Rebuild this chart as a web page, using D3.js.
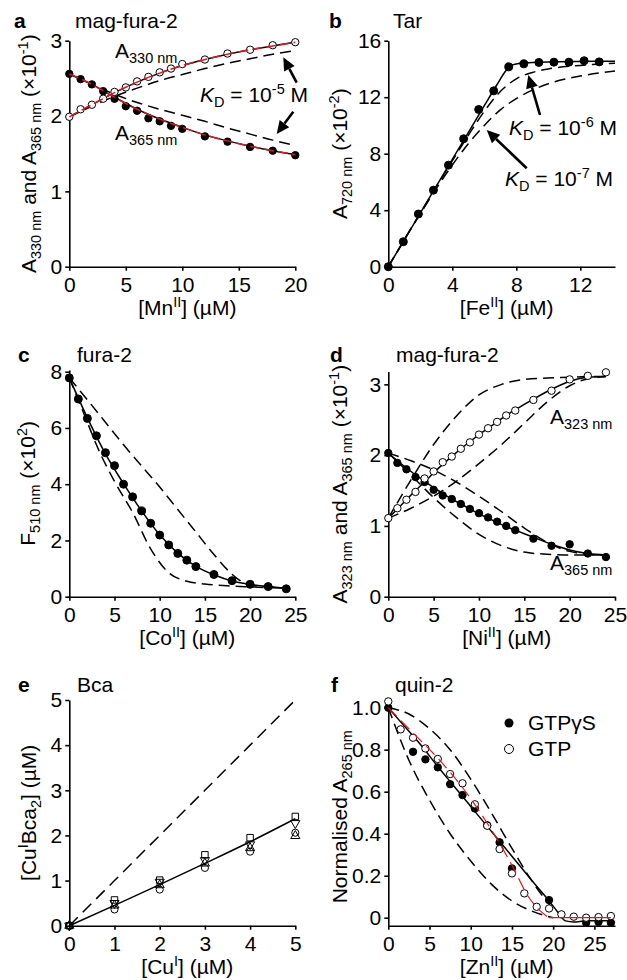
<!DOCTYPE html>
<html><head><meta charset="utf-8">
<script src="https://cdn.jsdelivr.net/npm/d3@7"></script>
<style>
body{margin:0;background:#fff}
text{font-family:"Liberation Sans",Arial,sans-serif;fill:#000}
</style></head>
<body><svg id="fig" width="627" height="980"></svg>
<script>
// ---------------- Panel a : mag-fura-2 / Mn ----------------
const aConc   = [0,1,2,3,4,5,6,7,8,9,10,12,14,16,18,20];
const aA330   = [1.99,2.09,2.15,2.23,2.32,2.38,2.46,2.52,2.58,2.63,2.69,2.75,2.83,2.88,2.94,2.98];
const aA365   = [2.56,2.49,2.42,2.33,2.23,2.13,2.07,1.97,1.93,1.87,1.83,1.73,1.66,1.59,1.54,1.48];
const aFitX   = [0,2,4,6,8,10,12,14,16,18,20];
const aFit330 = [1.99,2.15,2.31,2.45,2.57,2.67,2.75,2.82,2.88,2.93,2.98];
const aFit365 = [2.56,2.42,2.25,2.09,1.96,1.85,1.75,1.67,1.60,1.54,1.49];
const aKd330  = [1.99,2.13,2.26,2.37,2.47,2.55,2.63,2.70,2.76,2.82,2.87];
const aKd365  = [2.56,2.42,2.29,2.18,2.09,2.01,1.93,1.84,1.76,1.68,1.61];
const aXTicks = [0,5,10,15,20];
const aYTicks = [0,1,2,3];

// ---------------- Panel b : Tar / Fe ----------------
const bConc  = [0,0.94,1.88,2.82,3.76,4.71,5.65,6.59,7.53,8.47,9.41,10.35,11.29,12.24,13.18];
const bA720  = [0,1.77,3.73,5.42,7.19,9.06,11.13,12.45,14.15,14.36,14.46,14.48,14.48,14.58,14.5];
const bFitX  = [0,1,2,3,4,5,6,6.8,7.3,7.6,8,9,10,12,14.17];
const bFit   = [0,1.9,3.8,5.7,7.6,9.5,11.4,12.9,13.8,14.2,14.35,14.45,14.5,14.53,14.55];
const bKdX   = [0,2,4,5,6,7,8,9,10,12,14.17];
const bKd6   = [0,3.8,7.5,9.3,11.0,12.4,13.3,13.75,14.0,14.25,14.4];
const bKd7   = [0,3.75,7.2,8.7,10.0,11.1,11.9,12.5,12.95,13.5,13.85];
const bXTicks = [0,4,8,12];
const bYTicks = [0,4,8,12,16];

// ---------------- Panel c : fura-2 / Co ----------------
const cConc  = [0,1,2,3,4,5,6,7,8,9,10,11,12,13,14,16,18,20,22,24];
const cF510  = [7.78,7.03,6.34,5.72,5.12,4.66,4.0,3.55,3.05,2.61,2.19,1.84,1.54,1.30,1.07,0.79,0.57,0.44,0.36,0.28];
const cFitX  = [0,2,4,6,8,10,12,14,16,18,20,22,24];
const cFit   = [7.78,6.36,5.08,4.02,3.05,2.20,1.55,1.08,0.78,0.56,0.44,0.36,0.30];
const cKdX1  = [0,2,4,6,8,10,12,14,16,18,19,20,22,24];
const cKdWeak= [7.78,7.0,6.2,5.4,4.65,3.9,3.1,2.3,1.5,0.8,0.55,0.42,0.35,0.30];
const cKdX2  = [0,2,3,5,7,9,11,13,15,18,20,24];
const cKdTight=[7.78,6.2,5.4,4.1,3.0,1.7,0.85,0.55,0.45,0.38,0.35,0.30];
const cXTicks = [0,5,10,15,20,25];
const cYTicks = [0,2,4,6,8];

// ---------------- Panel d : mag-fura-2 / Ni ----------------
const dConc  = [0,1,2,3,4,5,6,7,8,9,10,11,12,13,14,16,18,20,22,24];
const dA323  = [1.11,1.25,1.37,1.48,1.67,1.77,1.90,1.98,2.09,2.18,2.29,2.38,2.47,2.56,2.63,2.78,2.91,3.07,3.12,3.17];
const dA365  = [2.03,1.89,1.80,1.69,1.62,1.51,1.43,1.38,1.31,1.24,1.18,1.12,1.06,1.00,0.94,0.82,0.72,0.74,0.61,0.56];
const dFitX  = [0,1,2,3,4,5,6,7,8,9,10,11,12,13,14,16,18,20,22,24];
const dFit323= [1.11,1.24,1.37,1.50,1.62,1.75,1.87,1.98,2.09,2.19,2.29,2.38,2.47,2.56,2.64,2.79,2.93,3.04,3.10,3.11];
const dFit365= [2.03,1.92,1.82,1.72,1.63,1.54,1.46,1.38,1.31,1.24,1.17,1.11,1.05,0.99,0.94,0.84,0.74,0.66,0.61,0.59];
const dKdX   = [0,2.5,5,7.5,10,12.5,15,17.5,20,22,24];
const d323Tight=[1.11,1.65,2.15,2.55,2.85,3.0,3.07,3.09,3.10,3.11,3.11];
const d323Weak =[1.11,1.25,1.42,1.63,1.88,2.15,2.45,2.75,2.98,3.08,3.11];
const d365Tight=[2.03,1.72,1.40,1.12,0.88,0.72,0.63,0.60,0.59,0.59,0.59];
const d365Weak =[2.03,1.92,1.79,1.62,1.42,1.20,0.97,0.77,0.64,0.60,0.59];
const dXTicks = [0,5,10,15,20,25];
const dYTicks = [0,1,2,3];

// ---------------- Panel e : Bca / Cu ----------------
const eConc   = [0,1,2,3,4,5];
const eSquare = [0,0.57,1.01,1.57,1.95,2.42];
const eTriDown= [0,0.50,0.97,1.45,1.80,2.27];
const eTriUp  = [0,0.45,0.90,1.38,1.72,1.99];
const eCircle = [0,0.36,0.80,1.28,1.64,2.06];
const eFit    = [0,0.45,0.91,1.38,1.86,2.37];
const eTheory = [0,1,2,3,4,5];
const eXTicks = [0,1,2,3,4,5];
const eYTicks = [0,1,2,3,4,5];

// ---------------- Panel f : quin-2 / Zn ----------------
const fConcS  = [0,3,4.5,6,7.5,9,10.5,12,13.5,15,19.5,24,25.5,27];
const fGTPgS  = [1.0,0.79,0.754,0.716,0.636,0.584,0.52,0.44,0.359,0.235,0.084,-0.024,-0.02,-0.024];
const fConcG  = [0,1.5,3,4.5,6,7.5,9,10.5,12,13.5,15,16.5,18,19.5,21,22.5,24,25.5,27];
const fGTP    = [1.03,0.897,0.857,0.806,0.756,0.684,0.64,0.54,0.438,0.327,0.211,0.116,0.052,0.044,0.016,0.005,0.0,0.003,0.008];
const fFitX   = [0,2,4,6,8,10,12,14,16,18,19.5,20.5,21.5,22.5,24,27];
const fFit    = [1.0,0.91,0.82,0.72,0.625,0.53,0.435,0.34,0.245,0.15,0.08,0.03,-0.015,-0.02,-0.015,-0.015];
const fRedX   = [0,3,6,9,12,15,17,18.5,19.5];
const fRed    = [1.0,0.88,0.76,0.62,0.45,0.25,0.10,0.03,0.0];
const fRedFlatX=[19.5,27];
const fRedFlat= [0,0];
const fKdX    = [0,2.5,5,7.5,10,12.5,15,17.5,20];
const fKdWeak = [1.0,0.97,0.90,0.80,0.66,0.50,0.33,0.17,0.04];
const fKdTight= [1.0,0.75,0.56,0.40,0.27,0.16,0.08,0.03,0.0];
const fXTicks = [0,5,10,15,20,25];
const fYTicks = [0,0.2,0.4,0.6,0.8,1.0];

// ====================================================================
const svg = d3.select("#fig");
const FS = 21, SUB = 14.5;

function panel(p){
  const x = d3.scaleLinear().domain(p.xd).range(p.xr);
  const y = d3.scaleLinear().domain(p.yd).range(p.yr);
  const g = svg.append("g");
  const xa = d3.axisBottom(x).tickValues(p.xt).tickSize(4).tickSizeOuter(0).tickPadding(6)
     .tickFormat(p.xf || (d=>String(d)));
  const ya = d3.axisLeft(y).tickValues(p.yt).tickSize(4).tickSizeOuter(0).tickPadding(3)
     .tickFormat(p.yf || (d=>String(d)));
  const gx = g.append("g").attr("transform",`translate(0,${p.yr[0]})`).call(xa);
  const gy = g.append("g").attr("transform",`translate(${p.xr[0]},0)`).call(ya);
  [gx,gy].forEach(a=>{
    a.selectAll("path,line").attr("stroke","#000").attr("stroke-width",1.6);
    a.selectAll("text").attr("font-size",FS).attr("font-family",'"Liberation Sans",Arial,sans-serif').attr("fill","#000");
  });
  g.append("text").attr("x",p.lx).attr("y",p.ly).attr("font-size",FS).attr("font-weight","bold").text(p.letter);
  g.append("text").attr("x",p.tx).attr("y",p.ly).attr("font-size",FS).text(p.title);
  const xl = g.append("text").attr("x",(p.xr[0]+p.xr[1])/2+5).attr("y",p.yr[0]+48.5)
     .attr("text-anchor","middle").attr("font-size",FS);
  richText(xl,p.xlab);
  const yl = g.append("text").attr("transform",`translate(${p.ylx},${(p.yr[0]+p.yr[1])/2}) rotate(-90)`)
     .attr("text-anchor","middle").attr("font-size",FS);
  richText(yl,p.ylab);
  return {x,y,g};
}
function richText(t,parts){
  let shift=0;
  parts.forEach(([s,k])=>{
    const ts=t.append("tspan").text(s);
    let target=0;
    if(k==="sub"){target=5;ts.attr("font-size",SUB);}
    else if(k==="sup"){target=-8;ts.attr("font-size",SUB);}
    else if(k==="i"){ts.attr("font-style","italic");}
    ts.attr("dy",target-shift); shift=target;
  });
}
function line(P,xs,ys,opt){
  const pts=xs.map((v,i)=>[v,ys[i]]);
  const gen=d3.line().x(d=>P.x(d[0])).y(d=>P.y(d[1])).curve(opt.curve||d3.curveMonotoneX);
  P.g.append("path").attr("d",gen(pts)).attr("fill","none").attr("stroke",opt.color||"#000")
    .attr("stroke-width",opt.w||1.5).attr("stroke-dasharray",opt.dash||null);
}
function dots(P,xs,ys,filled,r){
  P.g.append("g").selectAll("circle").data(xs.map((v,i)=>[v,ys[i]])).join("circle")
   .attr("cx",d=>P.x(d[0])).attr("cy",d=>P.y(d[1])).attr("r",r||3.7)
   .attr("fill",filled?"#000":"#fff").attr("stroke","#000").attr("stroke-width",1);
}
function symbols(P,xs,ys,type,size){
  P.g.append("g").selectAll("path").data(xs.map((v,i)=>[v,ys[i]])).join("path")
   .attr("transform",d=>`translate(${P.x(d[0])},${P.y(d[1])})${type==="down"?" rotate(180)":""}`)
   .attr("d",d3.symbol().type(type==="square"?d3.symbolSquare:type==="circle"?d3.symbolCircle:d3.symbolTriangle).size(size||45))
   .attr("fill","none").attr("stroke","#000").attr("stroke-width",1);
}
function arrow(g,x1,y1,x2,y2){
  const ang=Math.atan2(y2-y1,x2-x1), L=13, W=6;
  const bx=x2-L*Math.cos(ang), by=y2-L*Math.sin(ang);
  g.append("line").attr("x1",x1).attr("y1",y1).attr("x2",bx).attr("y2",by).attr("stroke","#000").attr("stroke-width",2.6);
  const px=-Math.sin(ang)*W, py=Math.cos(ang)*W;
  g.append("path").attr("d",`M${x2},${y2}L${bx+px},${by+py}L${bx-px},${by-py}Z`).attr("fill","#000");
}
function label(g,x,y,parts){ const t=g.append("text").attr("x",x).attr("y",y).attr("font-size",FS); richText(t,parts); return t;}

const DASH="11,6";
// ---------------- a ----------------
const A = panel({xd:[0,20],xr:[69.3,295.3],yd:[0,3],yr:[266.7,40.7],xt:aXTicks,yt:aYTicks,
  letter:"a",lx:14,ly:28,tx:75,title:"mag-fura-2",ylx:36,
  xlab:[["[Mn","n"],["II","sup"],["] (µM)","n"]],
  ylab:[["A","n"],["330 nm","sub"],[" and A","n"],["365 nm","sub"],[" (×10","n"],["-1","sup"],[")","n"]]});
line(A,aFitX,aKd330,{dash:DASH});
line(A,aFitX,aKd365,{dash:DASH});
line(A,aFitX,aFit330,{});
line(A,aFitX,aFit365,{});
dots(A,aConc,aA365,true);
dots(A,aConc,aA330,false);
line(A,aFitX,aFit330,{color:"#e8141b",dash:"10,4",w:1.5});
line(A,aFitX,aFit365,{color:"#e8141b",dash:"10,4",w:1.5});
label(A.g,115,58,[["A","n"],["330 nm","sub"]]);
label(A.g,115,140,[["A","n"],["365 nm","sub"]]);
label(A.g,200,102,[["K","i"],["D","sub"],[" = 10","n"],["-5","sup"],[" M","n"]]);
arrow(A.g,296.7,82.7,283.3,57.3);
arrow(A.g,293.3,111.7,276.7,134);

// ---------------- b ----------------
const B = panel({xd:[0,14.17],xr:[388.3,615],yd:[0,16],yr:[266.7,40.7],xt:bXTicks,yt:bYTicks,
  letter:"b",lx:329,ly:28,tx:393,title:"Tar",ylx:347,
  xlab:[["[Fe","n"],["II","sup"],["] (µM)","n"]],
  ylab:[["A","n"],["720 nm","sub"],[" (×10","n"],["-2","sup"],[")","n"]]});
line(B,bKdX,bKd6,{dash:DASH});
line(B,bKdX,bKd7,{dash:DASH});
line(B,bFitX,bFit,{});
dots(B,bConc,bA720,true,4);
label(B.g,509,135,[["K","i"],["D","sub"],[" = 10","n"],["-6","sup"],[" M","n"]]);
label(B.g,505,186,[["K","i"],["D","sub"],[" = 10","n"],["-7","sup"],[" M","n"]]);
arrow(B.g,540,115,528.3,75);
arrow(B.g,526.7,168.3,486.7,130);

// ---------------- c ----------------
const C = panel({xd:[0,25],xr:[69.3,295.3],yd:[0,8.06],yr:[596.7,370],xt:cXTicks,yt:cYTicks,
  letter:"c",lx:18,ly:361.7,tx:77,title:"fura-2",ylx:35,
  xlab:[["[Co","n"],["II","sup"],["] (µM)","n"]],
  ylab:[["F","n"],["510 nm","sub"],[" (×10","n"],["2","sup"],[")","n"]]});
line(C,cKdX1,cKdWeak,{dash:DASH});
line(C,cKdX2,cKdTight,{dash:DASH});
line(C,cFitX,cFit,{});
dots(C,cConc,cF510,true,4);

// ---------------- d ----------------
const D = panel({xd:[0,25],xr:[388.3,615],yd:[0,3.18],yr:[596.7,371.6],xt:dXTicks,yt:dYTicks,
  letter:"d",lx:330,ly:361.7,tx:396,title:"mag-fura-2",ylx:347,
  xlab:[["[Ni","n"],["II","sup"],["] (µM)","n"]],
  ylab:[["A","n"],["323 nm","sub"],[" and A","n"],["365 nm","sub"],[" (×10","n"],["-1","sup"],[")","n"]]});
line(D,dKdX,d323Tight,{dash:DASH});
line(D,dKdX,d323Weak,{dash:DASH});
line(D,dKdX,d365Tight,{dash:DASH});
line(D,dKdX,d365Weak,{dash:DASH});
line(D,dFitX,dFit323,{});
line(D,dFitX,dFit365,{});
dots(D,dConc,dA365,true);
dots(D,dConc,dA323,false);
label(D.g,550,424,[["A","n"],["323 nm","sub"]]);
label(D.g,550,570,[["A","n"],["365 nm","sub"]]);

// ---------------- e ----------------
const E = panel({xd:[0,5],xr:[69.3,295.3],yd:[0,5],yr:[925.7,700],xt:eXTicks,yt:eYTicks,
  letter:"e",lx:18,ly:691.7,tx:77,title:"Bca",ylx:36,
  xlab:[["[Cu","n"],["I","sup"],["] (µM)","n"]],
  ylab:[["[Cu","n"],["I","sup"],["Bca","n"],["2","sub"],["] (µM)","n"]]});
line(E,eConc,eTheory,{dash:"12,7",curve:d3.curveLinear});
line(E,eConc,eFit,{});
symbols(E,eConc,eCircle,"circle",40);
symbols(E,eConc,eTriUp,"up",36);
symbols(E,eConc,eTriDown,"down",36);
symbols(E,eConc,eSquare,"square",42);

// ---------------- f ----------------
const F = panel({xd:[0,27.5],xr:[388.3,615],yd:[-0.038,1.0],yr:[925.7,707.7],xt:fXTicks,yt:fYTicks,
  letter:"f",lx:331,ly:691.7,tx:395,title:"quin-2",ylx:347,
  yf:d=>d===0?"0":d.toFixed(1),
  xlab:[["[Zn","n"],["II","sup"],["] (µM)","n"]],
  ylab:[["Normalised A","n"],["265 nm","sub"]]});
line(F,fKdX,fKdWeak,{dash:DASH});
line(F,fKdX,fKdTight,{dash:DASH});
line(F,fFitX,fFit,{});
dots(F,fConcS,fGTPgS,true);
dots(F,fConcG,fGTP,false);
line(F,fRedX,fRed,{color:"#e8141b",dash:"12,6",w:1.2});
line(F,fRedFlatX,fRedFlat,{color:"#e8141b",w:1.2,curve:d3.curveLinear});
F.g.append("circle").attr("cx",509).attr("cy",723).attr("r",4.5).attr("fill","#000");
F.g.append("circle").attr("cx",509).attr("cy",749).attr("r",4.5).attr("fill","#fff").attr("stroke","#000");
F.g.append("text").attr("x",528).attr("y",730).attr("font-size",FS).text("GTPγS");
F.g.append("text").attr("x",528).attr("y",756).attr("font-size",FS).text("GTP");
</script></body></html>
